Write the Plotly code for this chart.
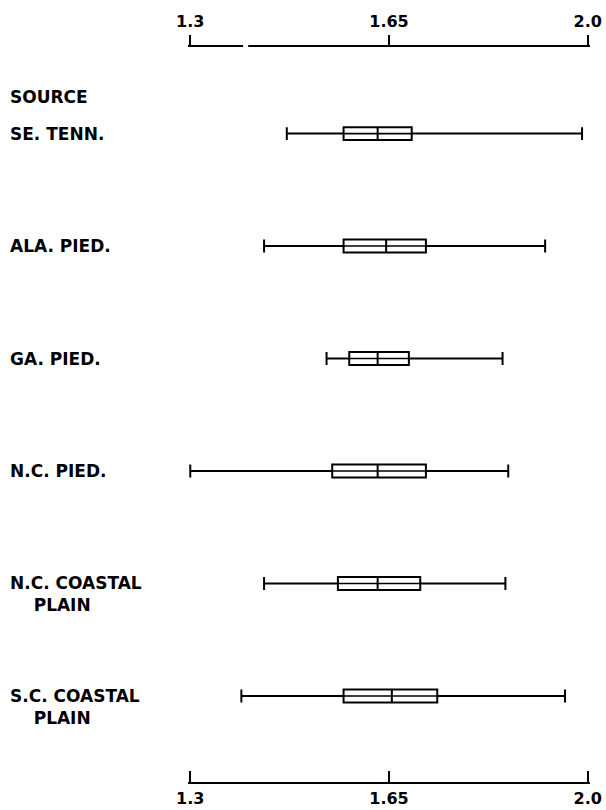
import plotly.graph_objects as go

# Seed-source groups, top to bottom
sources = ["SE. TENN.", "ALA. PIED.", "GA. PIED.", "N.C. PIED.",
           "N.C. COASTAL<br>\u00a0\u00a0\u00a0\u00a0PLAIN",
           "S.C. COASTAL<br>\u00a0\u00a0\u00a0\u00a0PLAIN"]
low = [1.47, 1.43, 1.54, 1.30, 1.43, 1.39]
q1 = [1.57, 1.57, 1.58, 1.55, 1.56, 1.57]
median = [1.63, 1.645, 1.63, 1.63, 1.63, 1.655]
q3 = [1.69, 1.715, 1.685, 1.715, 1.705, 1.735]
high = [1.99, 1.925, 1.85, 1.86, 1.855, 1.96]

tick_vals = [1.3, 1.65, 2.0]
tick_text = ["1.3", "1.65", "2.0"]
axis_gap = [1.393, 1.402]   # break in the upper scale line

keys = [f"s{i}" for i in range(len(sources))]
ink = "black"
font_main = "DejaVu Sans"
label_font = dict(family=font_main, size=17, color=ink, weight="bold")
tick_font = dict(family=font_main, size=16, color=ink, weight="bold")

fig = go.Figure()

fig.add_trace(go.Box(
    y=keys, q1=q1, median=median, q3=q3,
    lowerfence=low, upperfence=high,
    orientation="h", width=0.115, whiskerwidth=1.0,
    fillcolor="rgba(0,0,0,0)", line=dict(color=ink, width=2),
    boxpoints=False, hoverinfo="skip", showlegend=False,
))

# Centre line running through each box
cx, cy = [], []
for k, a, b in zip(keys, q1, q3):
    cx += [a, b, None]
    cy += [k, k, None]
fig.add_trace(go.Scatter(
    x=cx, y=cy, xaxis="x2", mode="lines",
    line=dict(color=ink, width=1.6), hoverinfo="skip", showlegend=False,
))

xr = [1.296, 2.004]
fig.update_layout(
    width=606, height=810,
    margin=dict(l=188, r=16, t=47, b=28),
    paper_bgcolor="white", plot_bgcolor="white",
    showlegend=False,
    xaxis=dict(
        range=xr, tickvals=tick_vals, ticktext=tick_text,
        showgrid=False, zeroline=False, automargin=False,
        showline=True, linecolor=ink, linewidth=2,
        ticks="inside", ticklen=11, tickwidth=2, tickcolor=ink,
        tickfont=tick_font, ticklabelstandoff=1,
    ),
    xaxis2=dict(
        range=xr, matches="x", overlaying="x", side="top", anchor="y",
        tickvals=tick_vals, ticktext=tick_text,
        showgrid=False, zeroline=False, automargin=False,
        showline=True, linecolor=ink, linewidth=2,
        ticks="outside", ticklen=10, tickwidth=2, tickcolor=ink,
        tickfont=tick_font, ticklabelstandoff=2,
    ),
    yaxis=dict(
        type="category", categoryarray=keys,
        range=[5.765, -0.77], automargin=False,
        showticklabels=False, showgrid=False, zeroline=False,
        showline=False, ticks="",
    ),
)

fig.add_shape(type="rect", xref="x", yref="paper",
              x0=axis_gap[0], x1=axis_gap[1], y0=0.985, y1=1.015,
              fillcolor="white", line=dict(width=0), layer="above")

label_x = (8 - 188) / 402
fig.add_annotation(text="SOURCE", xref="paper", yref="paper",
                   x=label_x, y=1 - (97 - 47) / 735,
                   xanchor="left", yanchor="middle", showarrow=False,
                   font=label_font)
for k, name in zip(keys, sources):
    fig.add_annotation(text=name, xref="paper", yref="y",
                       x=label_x, y=k, xanchor="left", yanchor="top",
                       yshift=12, align="left", showarrow=False,
                       font=label_font)

fig.write_html("out.html")
